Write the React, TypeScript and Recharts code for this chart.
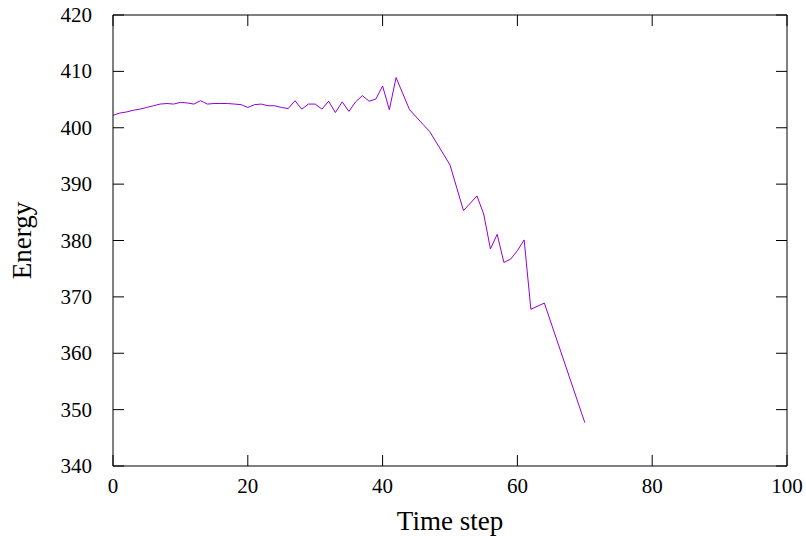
import React from 'react';
import { LineChart, Line, XAxis, YAxis } from 'recharts';

const steps = [0,1,2,3,4,5,6,7,8,9,10,11,12,13,14,15,16,17,18,19,20,21,22,23,24,25,26,27,28,29,30,31,32,33,34,35,36,37,38,39,40,41,42,44,46,47,50,52,54,55,56,57,58,59,60,61,62,64,70];
const energy = [402.2,402.6,402.8,403.1,403.3,403.6,403.9,404.2,404.3,404.2,404.5,404.4,404.2,404.8,404.2,404.3,404.3,404.3,404.2,404.1,403.6,404.1,404.2,403.9,403.9,403.6,403.4,404.8,403.3,404.2,404.2,403.3,404.7,402.7,404.6,402.9,404.6,405.7,404.7,405.1,407.4,403.2,408.9,403.2,400.6,399.3,393.4,385.3,387.9,384.7,378.5,381.1,376.1,376.7,378.2,380.1,367.8,368.9,347.7];
const xTicks = [0,20,40,60,80,100];
const yTicks = [340,350,360,370,380,390,400,410,420];

const data = steps.map((s, i) => ({ step: s, energy: energy[i] }));

const FONT = '"Liberation Serif", serif';
const TICK_LEN = 11;
const W = 806;
const H = 536;
const M = { top: 15, right: 19, bottom: 0, left: 0 };
const Y_AXIS_W = 113;
const X_AXIS_H = 70;
const PLOT_W = W - M.left - M.right - Y_AXIS_W;
const PLOT_H = H - M.top - M.bottom - X_AXIS_H;

const LeftTick = (p: any) => {
  const v = Number(p.payload && p.payload.value);
  const isTop = Math.abs(v - yTicks[yTicks.length - 1]) < 1e-6;
  return (
    <g>
      {isTop ? <path d={`M${p.x},${p.y}H${p.x + PLOT_W}`} stroke="#000" strokeWidth={1} fill="none" /> : null}
      <path d={`M${p.x},${p.y}h${TICK_LEN}`} stroke="#000" strokeWidth={1} fill="none" />
      <path d={`M${p.x + PLOT_W},${p.y}h${-TICK_LEN}`} stroke="#000" strokeWidth={1} fill="none" />
      <text x={p.x - 21} y={p.y} textAnchor="end" dominantBaseline="central" fontFamily={FONT} fontSize={21} fill="#000">
        {p.payload.value}
      </text>
    </g>
  );
};
const BottomTick = (p: any) => {
  const v = Number(p.payload && p.payload.value);
  const isRight = Math.abs(v - xTicks[xTicks.length - 1]) < 1e-6;
  return (
    <g>
      {isRight ? <path d={`M${p.x},${p.y}V${p.y - PLOT_H}`} stroke="#000" strokeWidth={1} fill="none" /> : null}
      <path d={`M${p.x},${p.y}v${-TICK_LEN}`} stroke="#000" strokeWidth={1} fill="none" />
      <path d={`M${p.x},${p.y - PLOT_H}v${TICK_LEN}`} stroke="#000" strokeWidth={1} fill="none" />
      <text x={p.x} y={p.y + 19.5} textAnchor="middle" dominantBaseline="central" fontFamily={FONT} fontSize={21} fill="#000">
        {p.payload.value}
      </text>
    </g>
  );
};

export default function App() {
  return (
    <div style={{ position: 'absolute', left: 0, top: 0 }}>
      <LineChart width={W} height={H} data={data} margin={M}>
        <XAxis
          dataKey="step"
          type="number"
          domain={[0, 100]}
          ticks={xTicks}
          orientation="bottom"
          height={X_AXIS_H}
          tickSize={0}
          tickMargin={0}
          tickLine={false}
          axisLine={{ stroke: '#000', strokeWidth: 1 }}
          tick={BottomTick}
          interval={0}
          label={{
            content: (props: any) => {
              const vb = props.viewBox;
              return (
                <text x={vb.x + vb.width / 2} y={521} textAnchor="middle" dominantBaseline="central" fontFamily={FONT} fontSize={27} fill="#000">
                  Time step
                </text>
              );
            },
          }}
        />
        <YAxis
          type="number"
          domain={[340, 420]}
          ticks={yTicks}
          orientation="left"
          width={Y_AXIS_W}
          tickSize={0}
          tickMargin={0}
          tickLine={false}
          axisLine={{ stroke: '#000', strokeWidth: 1 }}
          tick={LeftTick}
          interval={0}
          label={{
            content: (props: any) => {
              const vb = props.viewBox;
              const cy = vb.y + vb.height / 2;
              return (
                <text x={22} y={cy} transform={`rotate(-90, 22, ${cy})`} textAnchor="middle" dominantBaseline="central" fontFamily={FONT} fontSize={27} fill="#000">
                  Energy
                </text>
              );
            },
          }}
        />
        <Line
          type="linear"
          dataKey="energy"
          stroke="#9400D3"
          strokeWidth={1}
          dot={false}
          activeDot={false}
          isAnimationActive={false}
        />
      </LineChart>
    </div>
  );
}
